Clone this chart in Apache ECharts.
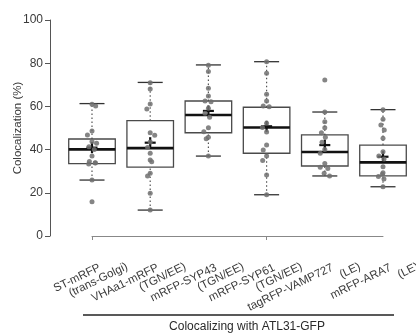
<!DOCTYPE html>
<html>
<head>
<meta charset="utf-8">
<script src="https://cdn.jsdelivr.net/npm/echarts@6/dist/echarts.min.js"></script>
<style>html,body{margin:0;padding:0;background:#fff;}#c{width:416px;height:333px;}</style>
</head>
<body>
<div id="c"></div>
<script>
const categories = ['ST-mRFP', 'VHAa1-mRFP', 'mRFP-SYP43', 'mRFP-SYP61', 'tagRFP-VAMP727', 'mRFP-ARA7'];
const compartments = ['(trans-Golgi)', '(TGN/EE)', '(TGN/EE)', '(TGN/EE)', '(LE)', '(LE)'];
const whiskerLow  = [25.9, 12.0, 37.0, 19.1, 27.8, 22.8];
const q1          = [33.5, 31.9, 47.8, 38.3, 32.4, 27.8];
const medians     = [40.1, 40.7, 56.0, 50.2, 38.9, 34.1];
const q3          = [44.9, 53.4, 62.5, 59.6, 46.8, 42.1];
const whiskerHigh = [61.3, 71.1, 79.2, 80.7, 57.4, 58.5];
const means       = [40.9, 43.2, 57.9, 50.8, 42.1, 36.7];
const pointsST     = [61, 60.2, 48.6, 46.8, 43.7, 42.9, 41.3, 40, 37, 34.5, 33.9, 33.3, 33.8, 25.9, 15.9];
const pointsVHA    = [71, 68, 61.1, 58.8, 47.8, 46.6, 43.5, 41, 38.3, 35.2, 34.4, 29, 27.8, 19.8, 12];
const pointsSYP43  = [79, 76.2, 68.4, 64.8, 62.5, 62.2, 59.1, 56.8, 55, 50.1, 48.3, 45.7, 45, 37];
const pointsSYP61  = [80.7, 75.3, 65.6, 62.5, 60.2, 59.8, 52.2, 50.2, 48.1, 42.1, 39.8, 37, 34.9, 28.2, 19.1];
const pointsVAMP   = [72.2, 57.4, 52.9, 50.1, 47.8, 45.7, 43.4, 40.1, 38.3, 33.6, 31.8, 31.2, 29, 27.8];
const pointsARA7   = [58.5, 54, 51.4, 49.1, 45.2, 39, 37, 35.6, 32.1, 29.3, 28.6, 27.5, 26.4, 22.8];
const allPoints = [pointsST, pointsVHA, pointsSYP43, pointsSYP61, pointsVAMP, pointsARA7];
const yTickValues = [0, 20, 40, 60, 80, 100];
const xTitle = 'Colocalizing with ATL31-GFP';
const yTitle = 'Colocalization (%)';

const boxData = categories.map((c, i) => [i, whiskerLow[i], q1[i], medians[i], q3[i], whiskerHigh[i], means[i]]);
const scatterData = [];
allPoints.forEach((arr, i) => arr.forEach(v => scatterData.push([i, v])));

const chart = echarts.init(document.getElementById('c'), null, {renderer: 'canvas'});

function renderBox(params, api) {
  const i = api.value(0);
  const lo = api.coord([i, api.value(1)]);
  const b1 = api.coord([i, api.value(2)]);
  const md = api.coord([i, api.value(3)]);
  const b3 = api.coord([i, api.value(4)]);
  const hi = api.coord([i, api.value(5)]);
  const mn = api.coord([i, api.value(6)]);
  const band = api.size([1, 0])[0];
  const bw = band * 0.8;
  const cw = band * 0.43;
  const x = lo[0];
  const boxStroke = {stroke: '#4a4a4a', lineWidth: 1.3, fill: null};
  const dotted = {stroke: '#555', lineWidth: 1.2, lineDash: [1.5, 2.5]};
  const cap = {stroke: '#333', lineWidth: 1.3};
  return {
    type: 'group',
    children: [
      {type: 'line', shape: {x1: x, y1: lo[1], x2: x, y2: b1[1]}, style: dotted},
      {type: 'line', shape: {x1: x, y1: b3[1], x2: x, y2: hi[1]}, style: dotted},
      {type: 'line', shape: {x1: x - cw / 2, y1: lo[1], x2: x + cw / 2, y2: lo[1]}, style: cap},
      {type: 'line', shape: {x1: x - cw / 2, y1: hi[1], x2: x + cw / 2, y2: hi[1]}, style: cap},
      {type: 'rect', shape: {x: x - bw / 2, y: b3[1], width: bw, height: b1[1] - b3[1]}, style: boxStroke},
      {type: 'line', shape: {x1: x - bw / 2, y1: md[1], x2: x + bw / 2, y2: md[1]}, style: {stroke: '#111', lineWidth: 2.6}},
      {type: 'line', shape: {x1: x - 5.5, y1: mn[1], x2: x + 5.5, y2: mn[1]}, style: {stroke: '#111', lineWidth: 2.2}, z2: 10},
      {type: 'line', shape: {x1: x, y1: mn[1] - 5.5, x2: x, y2: mn[1] + 5.5}, style: {stroke: '#111', lineWidth: 2.2}, z2: 10}
    ]
  };
}

chart.setOption({
  animation: false,
  backgroundColor: '#fff',
  grid: [
    {left: 92, right: 33, top: 20, bottom: 97, outerBoundsMode: 'none'},
    {left: 124.6, right: 0.4, top: 20, bottom: 97, outerBoundsMode: 'none'}
  ],
  xAxis: [
    {
      type: 'category', gridIndex: 0, data: categories, boundaryGap: false, offset: 8,
      jitter: 10, jitterOverlap: false, jitterMargin: 1,
      axisLine: {lineStyle: {color: '#888', width: 1}},
      axisTick: {show: true, length: 4, inside: false, lineStyle: {color: '#888'}},
      axisLabel: {show: false},
      splitLine: {show: false}
    },
    {
      type: 'category', gridIndex: 1, data: categories, boundaryGap: false, offset: 8,
      axisLine: {show: false}, axisTick: {show: false}, splitLine: {show: false},
      axisLabel: {
        show: true, interval: 0, rotate: 26, margin: 17, align: 'right', verticalAlign: 'middle',
        fontFamily: 'Liberation Sans, Arial, sans-serif', fontSize: 11.5, color: '#3a3a3a',
        formatter: (v, idx) => '{a|' + v + '}\n{b|' + compartments[idx] + '}',
        rich: {
          a: {fontFamily: 'Liberation Sans, Arial, sans-serif', fontSize: 11.5, color: '#3a3a3a', lineHeight: 11, align: 'right', padding: [0, 25, 0, 0]},
          b: {fontFamily: 'Liberation Sans, Arial, sans-serif', fontSize: 11.5, color: '#3a3a3a', lineHeight: 11, align: 'right'}
        }
      }
    }
  ],
  yAxis: [
    {
      type: 'value', gridIndex: 0, min: 0, max: 100, interval: 20, offset: 42,
      name: yTitle, nameLocation: 'middle', nameGap: 26, nameMoveOverlap: false,
      nameTextStyle: {fontFamily: 'Liberation Sans, Arial, sans-serif', fontSize: 11.5, color: '#3a3a3a'},
      axisLine: {show: true, lineStyle: {color: '#555', width: 1}},
      axisTick: {show: true, length: 5, lineStyle: {color: '#555'}},
      axisLabel: {margin: 7, fontFamily: 'Liberation Sans, Arial, sans-serif', fontSize: 12, color: '#3a3a3a',
        formatter: v => yTickValues.indexOf(v) >= 0 ? String(v) : ''},
      splitLine: {show: false}
    },
    {type: 'value', gridIndex: 1, min: 0, max: 100, show: false}
  ],
  graphic: [
    {type: 'line', shape: {x1: 83, y1: 315, x2: 394, y2: 315}, style: {stroke: '#222', lineWidth: 1.5}},
    {type: 'text', x: 247, y: 327, style: {text: xTitle, fontFamily: 'Liberation Sans, Arial, sans-serif', fontSize: 12, fill: '#2a2a2a', textAlign: 'center', textVerticalAlign: 'middle'}}
  ],
  series: [
    {
      type: 'custom', xAxisIndex: 0, yAxisIndex: 0, data: boxData, renderItem: renderBox, clip: false,
      encode: {x: 0, y: [1, 2, 3, 4, 5, 6]}, z: 2
    },
    {
      type: 'scatter', xAxisIndex: 0, yAxisIndex: 0, data: scatterData, symbol: 'circle', symbolSize: 5, clip: false,
      itemStyle: {color: '#707070', opacity: 0.85}, z: 3
    }
  ]
});
</script>
</body>
</html>
